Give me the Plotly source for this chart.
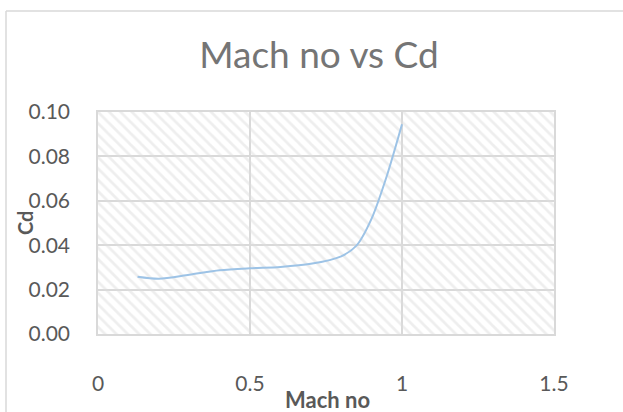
import plotly.graph_objects as go

# Drag coefficient against Mach number
mach = [0.13, 0.2, 0.3, 0.4, 0.5, 0.6, 0.7, 0.8, 0.85, 0.9, 0.95, 1.0]
cd = [0.0258, 0.0249, 0.0267, 0.0287, 0.0296, 0.0302, 0.0316, 0.0350, 0.0398, 0.0520, 0.0712, 0.0945]

x_ticks = [0, 0.5, 1, 1.5]
y_ticks = [0.00, 0.02, 0.04, 0.06, 0.08, 0.10]
x_range = [x_ticks[0], x_ticks[-1]]
y_range = [y_ticks[0], y_ticks[-1]]

GRID = "#d9d9d9"
TEXT = "#595959"
FONT = "Lato"

W, H = 623, 412
ML, MR, MT, MB = 98, 69, 112, 78
PW, PH = W - ML - MR, H - MT - MB

def px_x(p):
    return (p - ML) / PW

def px_y(p):
    return (H - MB - p) / PH

fig = go.Figure()

# hatched plot-area background
fig.add_trace(go.Scatter(
    x=[x_range[0], x_range[1], x_range[1], x_range[0], x_range[0]],
    y=[y_range[0], y_range[0], y_range[1], y_range[1], y_range[0]],
    mode="lines", fill="toself", line=dict(width=0),
    fillcolor="rgba(0,0,0,0)",
    fillpattern=dict(shape="\\", size=8, solidity=0.35,
                     fgcolor="#dedede", bgcolor="rgba(0,0,0,0)"),
    hoverinfo="skip", showlegend=False,
))

fig.add_trace(go.Scatter(
    x=mach, y=cd, mode="lines",
    line=dict(color="#9dc3e6", width=2, shape="spline", smoothing=0.8),
    showlegend=False,
))

fig.update_xaxes(
    range=x_range, tickvals=x_ticks, ticktext=["0", "0.5", "1", "1.5"],
    showgrid=True, gridcolor=GRID, gridwidth=1.5, zeroline=False,
    showline=True, linecolor=GRID, linewidth=1.5, mirror=True,
    ticks="outside", ticklen=30, tickcolor="rgba(0,0,0,0)",
    tickfont=dict(family=FONT, size=21, color=TEXT),
)
fig.update_yaxes(
    range=y_range, tickvals=y_ticks, tickformat=".2f",
    showgrid=True, gridcolor=GRID, gridwidth=1.5, zeroline=False,
    showline=True, linecolor=GRID, linewidth=1.5, mirror=True,
    ticks="outside", ticklen=22, tickcolor="rgba(0,0,0,0)",
    tickfont=dict(family=FONT, size=21, color=TEXT),
)

# chart-area outline
fig.add_shape(type="line", xref="paper", yref="paper",
              x0=px_x(6), x1=px_x(6), y0=px_y(H + 5), y1=px_y(11),
              line=dict(color=GRID, width=1.5))
fig.add_shape(type="line", xref="paper", yref="paper",
              x0=px_x(6), x1=px_x(W + 5), y0=px_y(11), y1=px_y(11),
              line=dict(color=GRID, width=1.5))

fig.add_annotation(text="<b>Mach no</b>", xref="paper", yref="paper",
                   x=px_x(327), y=px_y(399), showarrow=False,
                   xanchor="center", yanchor="middle",
                   font=dict(family=FONT, size=22, color=TEXT))
fig.add_annotation(text="<b>Cd</b>", xref="paper", yref="paper",
                   x=px_x(25), y=px_y(223), showarrow=False, textangle=-90,
                   xanchor="center", yanchor="middle",
                   font=dict(family=FONT, size=20, color=TEXT))

fig.update_layout(
    width=W, height=H,
    margin=dict(l=ML, r=MR, t=MT, b=MB),
    paper_bgcolor="white", plot_bgcolor="white",
    title=dict(text="Mach no vs Cd", x=319 / W, xref="container", xanchor="center",
               y=1 - 55 / H, yref="container", yanchor="middle",
               font=dict(family=FONT, size=37, color="#757575")),
)

fig.write_html("out.html")
